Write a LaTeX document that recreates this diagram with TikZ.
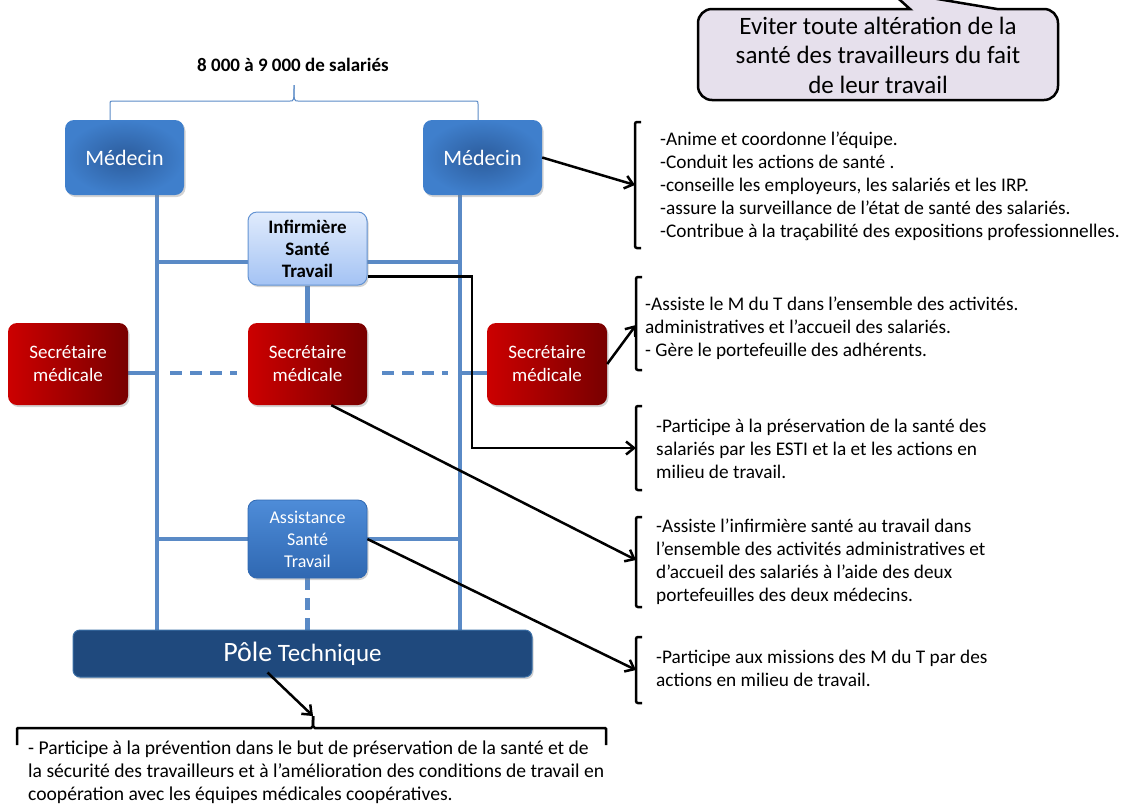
\documentclass[tikz,border=0pt]{standalone}
\usepackage{fontspec}
\setmainfont{Carlito}
\usetikzlibrary{arrows.meta,shadows,calc,backgrounds}

\definecolor{medin}{HTML}{2C5C9C}
\definecolor{medout}{HTML}{3F7FCC}
\definecolor{secg}{HTML}{CC0000}
\definecolor{secd}{HTML}{780000}
\definecolor{inftop}{HTML}{E0EBFC}
\definecolor{infbas}{HTML}{A4C3F4}
\definecolor{infbord}{HTML}{6393D3}
\definecolor{assttop}{HTML}{4E8CD8}
\definecolor{asstbas}{HTML}{2F68B2}
\definecolor{polefond}{HTML}{1F497D}
\definecolor{polebord}{HTML}{3A6EA5}
\definecolor{lienbleu}{HTML}{5A8AC6}
\definecolor{lavande}{HTML}{E6E0EC}

\begin{document}
\begin{tikzpicture}[x=1pt, y=-1pt,
    trait/.style={draw=lienbleu, line width=4.5pt},
    pointille/.style={draw=lienbleu, line width=4.5pt, dash pattern=on 12pt off 8pt},
    fleche/.style={line width=2.5pt, -{Straight Barb[length=8pt,width=13pt]}},
    crochet/.style={line width=2.5pt, rounded corners=2pt},
    boite/.style={rounded corners=9pt, inner sep=0pt, align=center, minimum width=119pt,
        drop shadow={opacity=.35, shadow xshift=1.5pt, shadow yshift=-2pt}},
    medecin/.style={boite, minimum height=75pt, inner color=medin, outer color=medout,
        text=white, font=\fontsize{22}{26}\selectfont},
    secretaire/.style={boite, minimum height=82pt, left color=secg, right color=secd,
        text=white, font=\fontsize{19}{23}\selectfont},
    texte/.style={anchor=north west, inner sep=0pt, align=left, font=\fontsize{19.3}{23}\selectfont}]

    % Cadre de la page
    \useasboundingbox (0,0) rectangle (1124,807);
    \clip (0,0) rectangle (1124,807);

    % Effectif suivi + accolade bleue
    \node[font=\bfseries\fontsize{19}{23}\selectfont] (effectif) at (293,65) {8 000 à 9 000 de salariés};
    \draw[lienbleu, line width=1pt] (110,121) -- (110,104) .. controls (110,101) .. (113,101) -- (290,101) .. controls (294,101) .. (294,85);
    \draw[lienbleu, line width=1pt] (478,121) -- (478,104) .. controls (478,101) .. (475,101) -- (298,101) .. controls (294,101) .. (294,85);

    % Les deux médecins
    \node[medecin] (medL) at (124.5,157.5) {Médecin};
    \node[medecin] (medR) at (482.5,157.5) {Médecin};

    % Infirmière santé travail
    \node[boite, minimum height=73pt, top color=inftop, bottom color=infbas, draw=infbord, line width=1pt,
        font=\bfseries\fontsize{19}{22}\selectfont] (inf) at (307.5,248.5) {Infirmière\\Santé\\Travail};

    % Secrétaires médicales
    \node[secretaire, minimum width=120pt] (secL) at (68,364) {Secrétaire\\médicale};
    \node[secretaire] (secM) at (307.5,364) {Secrétaire\\médicale};
    \node[secretaire, minimum width=120pt] (secR) at (547,364) {Secrétaire\\médicale};

    % Assistance santé travail
    \node[boite, minimum height=78pt, top color=assttop, bottom color=asstbas, draw=asstbas, line width=.8pt,
        text=white, font=\fontsize{18}{22}\selectfont] (asst) at (307.5,539) {Assistance\\Santé\\Travail};

    % Pôle technique
    \node[rounded corners=7pt, minimum width=459pt, minimum height=47pt, fill=polefond, draw=polebord, line width=1pt,
        text=white, font=\fontsize{25}{30}\selectfont,
        drop shadow={opacity=.35, shadow xshift=1.5pt, shadow yshift=-2pt}] (pole) at (302.5,653.5)
        {{\fontsize{28}{30}\selectfont Pôle} Technique};

    % Liaisons bleues (sous les boîtes)
    \coordinate (vG) at (157,0);
    \coordinate (vD) at (460,0);
    \coordinate (hInf) at (0,262);
    \coordinate (hSec) at (0,373);
    \begin{scope}[on background layer]
        \draw[trait] (medL.south -| vG) -- (pole.north -| vG);
        \draw[trait] (medR.south -| vD) -- (pole.north -| vD);
        \draw[trait] (vG |- hInf) -- (vD |- hInf);
        \draw[trait] (inf.south) -- (secM.north);
        \draw[trait] (secL.east |- hSec) -- (vG |- hSec);
        \draw[trait] (vD |- hSec) -- (secR.west |- hSec);
        \draw[pointille] ($(vG |- hSec)+(13,0)$) -- ($(secM.west |- hSec)+(-11,0)$);
        \draw[pointille] ($(secM.east |- hSec)+(15,0)$) -- ($(vD |- hSec)+(-12,0)$);
        \draw[trait] (vG |- asst.west) -- (vD |- asst.east);
        \draw[pointille] (asst.south) -- (asst.south |- pole.north);
    \end{scope}

    % Bulle : objectif
    \draw[line width=2.5pt, fill=lavande] (698,55) [rounded corners=14pt] -- (698,9) -- (800,9) [sharp corners] -- (910,9) -- (890,-9) -- (997,9) -- (1030,9) [rounded corners=14pt] -- (1058,9) -- (1058,100) -- (698,100) -- cycle;
    \node[align=center, font=\fontsize{25}{29.5}\selectfont] (but) at (878,55) {Eviter toute altération de la\\santé des travailleurs du fait\\de leur travail};

    % Crochets à droite
    \draw[crochet] (641,122) -- (635,122) -- (635,248) -- (641,248);
    \draw[crochet] (642,277) -- (636,277) -- (636,370) -- (642,370);
    \draw[crochet] (642,406) -- (636,406) -- (636,490) -- (642,490);
    \draw[crochet] (642,517) -- (636,517) -- (636,607) -- (642,607);
    \draw[crochet] (642,637) -- (636,637) -- (636,703) -- (642,703);
    \coordinate (cr1) at (635,185);
    \coordinate (cr2) at (636,325);
    \coordinate (cr3) at (636,448);
    \coordinate (cr4) at (636,560);
    \coordinate (cr5) at (636,670);
    \coordinate (coude) at (472,0);

    % Textes des missions
    \node[texte] (roleMed) at (660,132) {-Anime et coordonne l’équipe.\\-Conduit les actions de santé .\\-conseille les employeurs, les salariés et les IRP.\\-assure la surveillance de l’état de santé des salariés.\\-Contribue à la traçabilité des expositions professionnelles.};
    \node[texte] (roleSec) at (645,297) {-Assiste le M du T dans l’ensemble des activités.\\administratives et l’accueil des salariés.\\- Gère le portefeuille des adhérents.};
    \node[texte] (roleInf) at (656,419) {-Participe à la préservation de la santé des\\salariés par les ESTI et la et les actions en\\milieu de travail.};
    \node[texte] (roleSecM) at (656,519) {-Assiste l’infirmière santé au travail dans\\l’ensemble des activités administratives et\\d’accueil des salariés à l’aide des deux\\portefeuilles des deux médecins.};
    \node[texte] (roleAsst) at (656,650) {-Participe aux missions des M du T par des\\actions en milieu de travail.};

    % Flèches noires
    \draw[fleche] (medR.east) -- (cr1);
    \draw[fleche] (secR.east) -- (cr2);
    \draw[fleche] (inf.-25) -| (coude |- cr3) -- (cr3);
    \draw[fleche] (secM.-60) -- (cr4);
    \draw[fleche] (asst.east) -- (cr5);

    % Accolade du bas + texte du pôle technique
    \coordinate (bas) at (313,716);
    \draw[crochet] (17,745) -- (17,731) .. controls (17,728) .. (20,728) -- (309,728) .. controls (313,728) .. (bas);
    \draw[crochet] (606,745) -- (606,731) .. controls (606,728) .. (603,728) -- (317,728) .. controls (313,728) .. (bas);
    \draw[fleche] ($(pole.south)+(-35,-5)$) -- (bas);
    \node[texte, font=\fontsize{19.6}{23}\selectfont] (rolePole) at (28,741) {- Participe à la prévention dans le but de préservation de la santé et de\\la sécurité des travailleurs et à l’amélioration des conditions de travail en\\coopération avec les équipes médicales coopératives.};

\end{tikzpicture}
\end{document}
